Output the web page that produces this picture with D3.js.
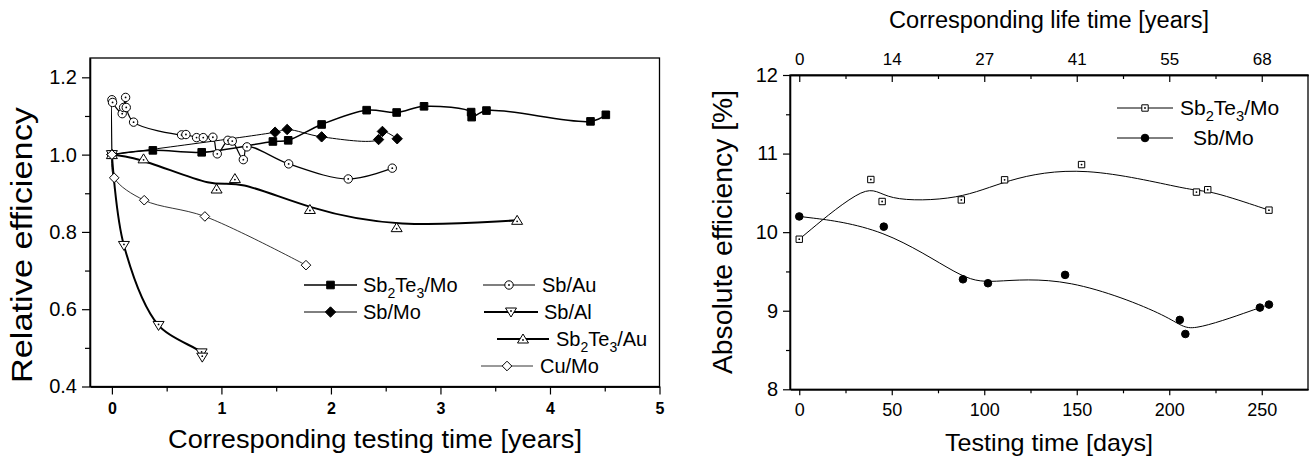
<!DOCTYPE html>
<html><head><meta charset="utf-8">
<script src="https://cdn.jsdelivr.net/npm/d3@7/dist/d3.min.js"></script>
<style>
body{margin:0;background:#fff}
svg{display:block}
text{font-family:Arial,"Liberation Sans",Helvetica,sans-serif;fill:#000}
</style></head>
<body>
<svg id="chart" width="1313" height="457"></svg>
<script>
// ---------- LEFT PANEL DATA (years, relative efficiency) ----------
const sb2te3MoYears = [0, 0.374, 0.82, 1.47, 1.61, 1.915, 2.326, 2.60, 2.85, 3.28, 3.285, 3.42, 4.37, 4.51];
const sb2te3MoRel   = [1.000, 1.011, 1.006, 1.034, 1.037, 1.078, 1.115, 1.109, 1.125, 1.110, 1.097, 1.114, 1.086, 1.103];

const sbMoYears = [0, 1.49, 1.60, 1.915, 2.435, 2.47, 2.605];
const sbMoRel   = [1.000, 1.058, 1.065, 1.046, 1.039, 1.060, 1.041];

const sbAuYears = [0, 0, 0.006, 0.094, 0.107, 0.125, 0.131, 0.198, 0.636, 0.676, 0.773, 0.834, 0.922, 0.962, 1.059, 1.099, 1.20, 1.233, 1.614, 2.158, 2.56];
const sbAuRel   = [1.000, 1.142, 1.135, 1.106, 1.122, 1.148, 1.122, 1.084, 1.051, 1.052, 1.044, 1.044, 1.045, 1.002, 1.037, 1.035, 0.987, 1.020, 0.976, 0.937, 0.965];

const sbAlYears = [0, 0.11, 0.426, 0.819, 0.825];
const sbAlRel   = [1.000, 0.765, 0.558, 0.487, 0.476];

const sb2te3AuYears = [0, 0.289, 0.956, 1.123, 1.808, 2.60, 3.70];
const sb2te3AuRel   = [1.000, 0.989, 0.911, 0.938, 0.858, 0.811, 0.830];

const cuMoYears = [0, 0.021, 0.295, 0.849, 1.772];
const cuMoRel   = [1.000, 0.940, 0.882, 0.840, 0.714];

const leftXTicks = [0, 1, 2, 3, 4, 5];
const leftYTicks = [0.4, 0.6, 0.8, 1.0, 1.2];

// ---------- RIGHT PANEL DATA (days, absolute efficiency %) ----------
const absSb2te3MoDays = [0, 38.7, 44.8, 87.6, 111, 152.6, 214.7, 220.8, 253.9];
const absSb2te3MoEff  = [9.91, 10.67, 10.39, 10.41, 10.666, 10.86, 10.51, 10.54, 10.28];

const absSbMoDays = [0, 45.7, 88.5, 102, 143.7, 205.7, 208.7, 249, 253.9];
const absSbMoEff  = [10.20, 10.07, 9.40, 9.35, 9.456, 8.883, 8.704, 9.04, 9.078];

const rightXTicks = [0, 50, 100, 150, 200, 250];
const rightYTicks = [8, 9, 10, 11, 12];
const lifeYearLabels = ["0", "14", "27", "41", "55", "68"];

const leftSeriesNames = ["Sb2Te3/Mo", "Sb/Mo", "Sb/Au", "Sb/Al", "Sb2Te3/Au", "Cu/Mo"];
const rightSeriesNames = ["Sb2Te3/Mo", "Sb/Mo"];

// ---------- helpers ----------
const svg = d3.select("#chart");

function markerPath(type, r) {
  const p = d3.path();
  if (type === "square") { p.rect(-r, -r, 2 * r, 2 * r); }
  else if (type === "diamond") { p.moveTo(0, -r); p.lineTo(r, 0); p.lineTo(0, r); p.lineTo(-r, 0); p.closePath(); }
  else if (type === "circle") { p.arc(0, 0, r, 0, 2 * Math.PI); }
  else if (type === "triUp") { p.moveTo(0, -r); p.lineTo(r * 1.1, r * 0.8); p.lineTo(-r * 1.1, r * 0.8); p.closePath(); }
  else if (type === "triDown") { p.moveTo(0, r); p.lineTo(r * 1.1, -r * 0.8); p.lineTo(-r * 1.1, -r * 0.8); p.closePath(); }
  return p.toString();
}

function drawMarker(g, x, y, st) {
  g.append("path").attr("transform", `translate(${x},${y})`)
    .attr("d", markerPath(st.shape, st.r))
    .attr("fill", st.filled ? "#000" : "#fff")
    .attr("stroke", "#000").attr("stroke-width", st.mw || 1);
  if (st.dot) {
    const dy = st.shape === "triUp" ? 1 : (st.shape === "triDown" ? -1 : 0);
    g.append("circle").attr("cx", x).attr("cy", y + dy).attr("r", 0.9).attr("fill", "#000");
  }
}

function labelWithSubs(sel, str, size) {
  const parts = str.match(/(\d+|\D+)/g);
  let sub = false;
  parts.forEach(part => {
    const isNum = /^\d+$/.test(part);
    const t = sel.append("tspan").text(part);
    if (isNum) { t.attr("font-size", size * 0.7).attr("dy", sub ? 0 : size * 0.3); sub = true; }
    else { if (sub) t.attr("dy", -size * 0.3); sub = false; }
  });
}

// ---------- LEFT PANEL ----------
const xL = d3.scaleLinear().domain([-0.2, 5]).range([90, 659.5]);
const yL = d3.scaleLinear().domain([0.4, 1.25]).range([386.5, 58]);

const gL = svg.append("g");

gL.append("rect").attr("x", xL(-0.2)).attr("y", yL(1.25))
  .attr("width", xL(5) - xL(-0.2)).attr("height", yL(0.4) - yL(1.25))
  .attr("fill", "none").attr("stroke", "#000").attr("stroke-width", 1.3);

const axLy = gL.append("g").attr("transform", `translate(${xL(-0.2)},0)`)
  .call(d3.axisLeft(yL).tickValues(leftYTicks).tickFormat(d3.format(".1f")).tickSize(8).tickPadding(5).tickSizeOuter(0));
gL.append("g").attr("transform", `translate(${xL(-0.2)},0)`)
  .call(d3.axisLeft(yL).tickValues([0.5, 0.7, 0.9, 1.1]).tickFormat("").tickSize(5).tickSizeOuter(0));
const axLx = gL.append("g").attr("transform", `translate(0,${yL(0.4)})`)
  .call(d3.axisBottom(xL).tickValues(leftXTicks).tickFormat(d3.format("d")).tickSize(8).tickPadding(8).tickSizeOuter(0));
gL.append("g").attr("transform", `translate(0,${yL(0.4)})`)
  .call(d3.axisBottom(xL).tickValues([0.5, 1.5, 2.5, 3.5, 4.5]).tickFormat("").tickSize(5).tickSizeOuter(0));
axLy.selectAll("text").attr("font-size", 20).attr("font-family", "Arial, 'Liberation Sans', sans-serif");
axLx.selectAll("text").attr("font-size", 16).attr("font-weight", "bold").attr("font-family", "Arial, 'Liberation Sans', sans-serif");
gL.selectAll(".domain").attr("stroke-width", 1.3);
gL.selectAll(".tick line").attr("stroke-width", 1.2);

const leftSeries = [
  { name: leftSeriesNames[0], xs: sb2te3MoYears, ys: sb2te3MoRel, curve: d3.curveCatmullRom.alpha(0.5), lw: 1.5, st: { shape: "square", r: 3.8, filled: true } },
  { name: leftSeriesNames[1], xs: sbMoYears, ys: sbMoRel, curve: d3.curveCatmullRom.alpha(0.5), lw: 1.0, st: { shape: "diamond", r: 5.2, filled: true } },
  { name: leftSeriesNames[2], xs: sbAuYears, ys: sbAuRel, curve: d3.curveCatmullRom.alpha(0.5), lw: 1.2, st: { shape: "circle", r: 4.2, filled: false, dot: true } },
  { name: leftSeriesNames[3], xs: sbAlYears, ys: sbAlRel, curve: d3.curveCatmullRom.alpha(0.5), lw: 2.0, st: { shape: "triDown", r: 5, filled: false, dot: true } },
  { name: leftSeriesNames[4], xs: sb2te3AuYears, ys: sb2te3AuRel, curve: d3.curveBasis, lw: 2.0, st: { shape: "triUp", r: 5, filled: false, dot: true } },
  { name: leftSeriesNames[5], xs: cuMoYears, ys: cuMoRel, curve: d3.curveCatmullRom.alpha(0.5), lw: 0.8, st: { shape: "diamond", r: 4.8, filled: false } }
];

leftSeries.forEach(s => {
  const pts = s.xs.map((x, i) => [x, s.ys[i]]);
  gL.append("path").datum(pts)
    .attr("d", d3.line().x(d => xL(d[0])).y(d => yL(d[1])).curve(s.curve))
    .attr("fill", "none").attr("stroke", "#000").attr("stroke-width", s.lw);
});
leftSeries.forEach(s => {
  s.xs.forEach((x, i) => drawMarker(gL, xL(x), yL(s.ys[i]), s.st));
});

// left legend (layout positions)
const leftLegendPos = [
  { x1: 304, x2: 357, y: 285, tx: 363 },
  { x1: 304, x2: 357, y: 312, tx: 363 },
  { x1: 483, x2: 535, y: 285, tx: 542 },
  { x1: 484, x2: 538, y: 312, tx: 544 },
  { x1: 497, x2: 549, y: 339, tx: 556 },
  { x1: 481, x2: 533, y: 366, tx: 540 }
];
leftSeries.forEach((s, i) => {
  const p = leftLegendPos[i];
  gL.append("line").attr("x1", p.x1).attr("x2", p.x2).attr("y1", p.y).attr("y2", p.y)
    .attr("stroke", "#000").attr("stroke-width", s.lw);
  drawMarker(gL, (p.x1 + p.x2) / 2, p.y, s.st);
  const t = gL.append("text").attr("x", p.tx).attr("y", p.y + 7).attr("font-size", 20);
  labelWithSubs(t, s.name, 20);
});

gL.append("text").attr("x", 375).attr("y", 448).attr("text-anchor", "middle")
  .attr("font-size", 26).attr("textLength", 414).attr("lengthAdjust", "spacingAndGlyphs")
  .text("Corresponding testing time [years]");
gL.append("text").attr("transform", "translate(32,245) rotate(-90)").attr("text-anchor", "middle")
  .attr("font-size", 29).attr("textLength", 276).attr("lengthAdjust", "spacingAndGlyphs")
  .text("Relative efficiency");

// ---------- RIGHT PANEL ----------
const xR = d3.scaleLinear().domain([-5, 275]).range([790, 1308]);
const yR = d3.scaleLinear().domain([8, 12]).range([389.3, 75]);
const gR = svg.append("g");

gR.append("rect").attr("x", xR(-5)).attr("y", yR(12))
  .attr("width", xR(275) - xR(-5)).attr("height", yR(8) - yR(12))
  .attr("fill", "none").attr("stroke", "#000").attr("stroke-width", 1.3);

const axRy = gR.append("g").attr("transform", `translate(${xR(-5)},0)`)
  .call(d3.axisLeft(yR).tickValues(rightYTicks).tickFormat(d3.format("d")).tickSize(7).tickPadding(5).tickSizeOuter(0));
gR.append("g").attr("transform", `translate(${xR(-5)},0)`)
  .call(d3.axisLeft(yR).tickValues([8.5, 9.5, 10.5, 11.5]).tickFormat("").tickSize(4).tickSizeOuter(0));
const axRx = gR.append("g").attr("transform", `translate(0,${yR(8)})`)
  .call(d3.axisBottom(xR).tickValues(rightXTicks).tickFormat(d3.format("d")).tickSize(6).tickPadding(8).tickSizeOuter(0));
gR.append("g").attr("transform", `translate(0,${yR(8)})`)
  .call(d3.axisBottom(xR).tickValues([25, 75, 125, 175, 225]).tickFormat("").tickSize(4).tickSizeOuter(0));
const axRt = gR.append("g").attr("transform", `translate(0,${yR(12)})`)
  .call(d3.axisTop(xR).tickValues(rightXTicks).tickFormat((d, i) => lifeYearLabels[i]).tickSize(-7).tickPadding(10).tickSizeOuter(0));
gR.append("g").attr("transform", `translate(0,${yR(12)})`)
  .call(d3.axisTop(xR).tickValues([25, 75, 125, 175, 225]).tickFormat("").tickSize(-4).tickSizeOuter(0));
axRy.selectAll("text").attr("font-size", 20).attr("font-family", "Arial, 'Liberation Sans', sans-serif");
axRx.selectAll("text").attr("font-size", 18).attr("font-family", "Arial, 'Liberation Sans', sans-serif");
axRt.selectAll("text").attr("font-size", 17).attr("font-family", "Arial, 'Liberation Sans', sans-serif");
gR.selectAll(".domain").attr("stroke-width", 1.3);
gR.selectAll(".tick line").attr("stroke-width", 1.2);

const rightSeries = [
  { name: rightSeriesNames[0], xs: absSb2te3MoDays, ys: absSb2te3MoEff, st: { shape: "square", r: 3.2, filled: false, dot: true } },
  { name: rightSeriesNames[1], xs: absSbMoDays, ys: absSbMoEff, st: { shape: "circle", r: 3.8, filled: true } }
];
rightSeries.forEach(s => {
  const pts = s.xs.map((x, i) => [x, s.ys[i]]);
  gR.append("path").datum(pts)
    .attr("d", d3.line().x(d => xR(d[0])).y(d => yR(d[1])).curve(d3.curveBasis))
    .attr("fill", "none").attr("stroke", "#000").attr("stroke-width", 1);
});
rightSeries.forEach(s => {
  s.xs.forEach((x, i) => drawMarker(gR, xR(x), yR(s.ys[i]), s.st));
});

const rightLegendPos = [
  { x1: 1117, x2: 1173, y: 108, tx: 1180 },
  { x1: 1117, x2: 1173, y: 138, tx: 1193 }
];
rightSeries.forEach((s, i) => {
  const p = rightLegendPos[i];
  gR.append("line").attr("x1", p.x1).attr("x2", p.x2).attr("y1", p.y).attr("y2", p.y)
    .attr("stroke", "#000").attr("stroke-width", 1);
  drawMarker(gR, (p.x1 + p.x2) / 2, p.y, s.st);
  const t = gR.append("text").attr("x", p.tx).attr("y", p.y + 7).attr("font-size", 21);
  labelWithSubs(t, s.name, 21);
});

gR.append("text").attr("x", 1049).attr("y", 28).attr("text-anchor", "middle")
  .attr("font-size", 23).attr("textLength", 320).attr("lengthAdjust", "spacingAndGlyphs")
  .text("Corresponding life time [years]");
gR.append("text").attr("x", 1049).attr("y", 451).attr("text-anchor", "middle")
  .attr("font-size", 24).attr("textLength", 208).attr("lengthAdjust", "spacingAndGlyphs")
  .text("Testing time [days]");
gR.append("text").attr("transform", "translate(732,232) rotate(-90)").attr("text-anchor", "middle")
  .attr("font-size", 28).attr("textLength", 284).attr("lengthAdjust", "spacingAndGlyphs")
  .text("Absolute efficiency [%]");
</script>
</body></html>
